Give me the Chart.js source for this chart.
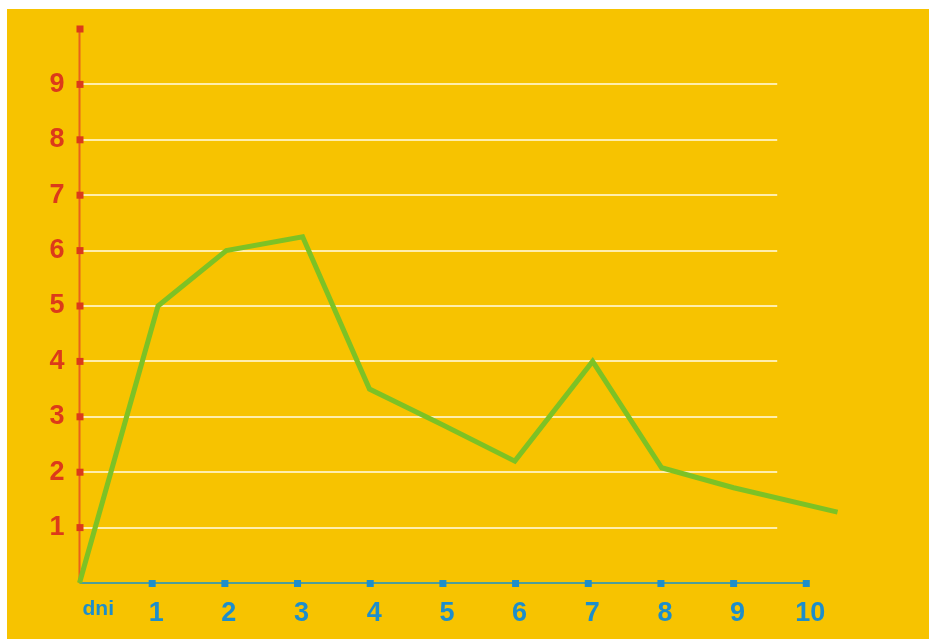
<!DOCTYPE html>
<html>
<head>
<meta charset="utf-8">
<script src="https://cdn.jsdelivr.net/npm/chart.js@4/dist/chart.umd.min.js"></script>
<style>
    html, body { margin: 0; padding: 0; background: #ffffff; }
    #wrap { width: 929px; height: 639px; position: relative; }
</style>
</head>
<body>
<div id="wrap"><canvas id="myLineChart"></canvas></div>
<script>
// values
const days = [0, 1.08, 2.02, 3.07, 3.99, 5, 5.99, 7.06, 8.01, 9, 10.43]
const values = [0, 5, 6, 6.25, 3.5, 2.85, 2.2, 4, 2.08, 1.72, 1.28]
const xTicks = [1, 2, 3, 4, 5, 6, 7, 8, 9, 10]
const yTicks = [1, 2, 3, 4, 5, 6, 7, 8, 9, 10]
const xTitle = 'dni'

const yellow = '#f7c300'
const red = '#dc3a1a'
const redAxis = '#e8621c'
const blue = '#1d8ecb'
const blueAxis = '#4f9e98'
const green = '#7dc225'
const gridColor = 'rgba(255, 243, 190, 0.9)'
const labelFont = '"Liberation Sans", Arial, sans-serif'

const points = days.map((d, i) => ({ x: d, y: values[i] }))

const decorPlugin = {
    id: 'decor',
    beforeDraw(chart) {
        const ctx = chart.ctx
        ctx.save()
        ctx.fillStyle = yellow
        ctx.fillRect(7, 9, chart.width - 7, chart.height - 9)
        ctx.restore()
    },
    beforeDatasetsDraw(chart) {
        const ctx = chart.ctx
        const x = chart.scales.x
        const y = chart.scales.y
        const x0 = x.getPixelForValue(0)
        const y0 = y.getPixelForValue(0)
        ctx.save()
        // white grid lines stop short of the last tick
        ctx.strokeStyle = gridColor
        ctx.lineWidth = 2
        yTicks.slice(0, -1).forEach(v => {
            const py = Math.round(y.getPixelForValue(v))
            ctx.beginPath()
            ctx.moveTo(x0, py)
            ctx.lineTo(x.getPixelForValue(9.6), py)
            ctx.stroke()
        })
        // axes
        ctx.lineWidth = 2
        ctx.strokeStyle = blueAxis
        ctx.beginPath()
        ctx.moveTo(x0, y0)
        ctx.lineTo(x.getPixelForValue(xTicks[xTicks.length - 1]), y0)
        ctx.stroke()
        ctx.strokeStyle = redAxis
        ctx.beginPath()
        ctx.moveTo(x0, y0)
        ctx.lineTo(x0, y.getPixelForValue(yTicks[yTicks.length - 1]))
        ctx.stroke()
        // square tick marks
        ctx.fillStyle = red
        yTicks.forEach(v => {
            ctx.fillRect(x0 - 3, y.getPixelForValue(v) - 3.5, 7, 7)
        })
        ctx.fillStyle = blue
        xTicks.forEach(v => {
            ctx.fillRect(x.getPixelForValue(v) - 3.5, y0 - 3, 7, 7)
        })
        ctx.restore()
    },
    afterDraw(chart) {
        const ctx = chart.ctx
        const x = chart.scales.x
        const y = chart.scales.y
        ctx.save()
        ctx.fillStyle = blue
        ctx.font = 'bold 21px ' + labelFont
        ctx.textAlign = 'left'
        ctx.textBaseline = 'alphabetic'
        ctx.fillText(xTitle, x.getPixelForValue(0) + 3, y.getPixelForValue(0) + 32)
        ctx.restore()
    }
}

document.addEventListener('DOMContentLoaded', function() {
    const ctx = document.getElementById('myLineChart').getContext('2d')
    new Chart(ctx, {
        type: 'line',
        data: {
            datasets: [{
                data: points,
                borderColor: green,
                borderWidth: 5,
                pointRadius: 0,
                tension: 0,
                fill: false,
                clip: false
            }]
        },
        plugins: [decorPlugin],
        options: {
            responsive: true,
            maintainAspectRatio: false,
            animation: false,
            layout: {
                padding: { top: 29, right: 90, bottom: 0, left: 0 }
            },
            plugins: {
                legend: { display: false },
                tooltip: { enabled: false }
            },
            scales: {
                x: {
                    type: 'linear',
                    min: 0,
                    max: 10.45,
                    afterFit: (scale) => { scale.height = 56 },
                    afterBuildTicks: (scale) => {
                        scale.ticks = xTicks.map(v => ({ value: v }))
                    },
                    grid: { display: false },
                    border: { display: false },
                    ticks: {
                        color: blue,
                        padding: 6,
                        labelOffset: 4,
                        maxRotation: 0,
                        autoSkip: false,
                        font: { family: labelFont, size: 27, weight: 'bold' }
                    }
                },
                y: {
                    min: 0,
                    max: 10,
                    afterFit: (scale) => { scale.width = 79.5 },
                    afterBuildTicks: (scale) => {
                        scale.ticks = yTicks.map(v => ({ value: v }))
                    },
                    grid: { display: false },
                    border: { display: false },
                    ticks: {
                        color: red,
                        padding: 7,
                        autoSkip: false,
                        callback: (v) => v === 10 ? '' : v,
                        font: { family: labelFont, size: 27, weight: 'bold' }
                    }
                }
            }
        }
    })
})
</script>
</body>
</html>
